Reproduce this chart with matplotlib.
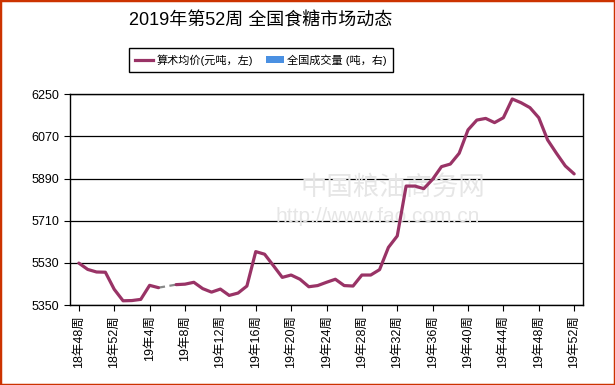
import numpy as np
import matplotlib.pyplot as plt
from matplotlib.lines import Line2D
from matplotlib.patches import Patch, Rectangle

plt.rcParams['font.family'] = ['Liberation Sans', 'Noto Sans CJK SC', 'DejaVu Sans']

# semanas: 18年48周 ... 19年52周
semanas = [f"18年{w}周" for w in range(48, 53)] + [f"19年{w}周" for w in range(1, 53)]

# precio medio (元/吨); nan = semana sin dato
precio = [5529, 5502, 5491, 5490, 5417, 5368, 5369, 5374, 5434, 5424,
          np.nan, 5437, 5439, 5447, 5420, 5405, 5418, 5391, 5401, 5431,
          5578, 5567, 5518, 5468, 5478, 5460, 5428, 5433, 5447, 5460,
          5433, 5431, 5478, 5478, 5501, 5596, 5645, 5858, 5858, 5847,
          5887, 5941, 5952, 5998, 6098, 6140, 6147, 6129, 6150, 6230,
          6214, 6193, 6150, 6055, 5998, 5944, 5910]

yticks = [5350, 5530, 5710, 5890, 6070, 6250]

color_linea = '#993366'

fig = plt.figure(figsize=(6.15, 3.85), dpi=100)
ax = fig.add_axes([70/615, 1 - 305/385, (583-70)/615, (305-94.3)/385])

x = np.arange(len(semanas))
y = np.array(precio, dtype=float)

# huecos: linea gris discontinua entre vecinos
for i in np.where(np.isnan(y))[0]:
    ax.plot([x[i-1], x[i+1]], [y[i-1], y[i+1]], color='#888888', lw=1.6,
            ls=(0, (3, 2)), zorder=2)
ax.plot(x, y, color=color_linea, lw=2.3, zorder=3, solid_capstyle='round')

ax.set_xlim(-1, len(semanas))
ax.set_ylim(5350, 6250)
ax.set_yticks(yticks)
ax.set_yticklabels([str(v) for v in yticks], fontsize=9)
ax.set_xticks(x[::4])
ax.set_xticklabels(semanas[::4], rotation=90, fontsize=9)
ax.tick_params(axis='both', direction='out', length=4, width=0.8, color='black')
ax.grid(axis='y', color='black', lw=0.9)
ax.set_axisbelow(True)
for s in ax.spines.values():
    s.set_linewidth(1.0)

# marca de agua
ax.text(0.63, 0.56, '中国粮油商务网', transform=ax.transAxes, fontsize=19,
        color='#e6e6e6', ha='center', va='center', zorder=1)
ax.text(0.60, 0.42, 'http://www.fao.com.cn', transform=ax.transAxes, fontsize=15,
        color='#e6e6e6', ha='center', va='center', zorder=1)

fig.text(261/615, 1 - 21/385, '2019年第52周 全国食糖市场动态', fontsize=13,
         ha='center', va='center')

handles = [Line2D([], [], color=color_linea, lw=2.3),
           Patch(facecolor='#4a90e2', edgecolor='none')]
leg = fig.legend(handles, ['算术均价(元吨，左)', '全国成交量 (吨，右)'],
                 loc='center', bbox_to_anchor=(261/615, 1 - 60/385), ncol=2,
                 fontsize=8, fancybox=False, edgecolor='black', framealpha=1,
                 handlelength=1.6, handleheight=0.6, handletextpad=0.3,
                 columnspacing=1.2, borderpad=0.55, borderaxespad=0)
leg.get_frame().set_linewidth(1.0)

fig.patches.append(Rectangle((0, 0), 1, 1, transform=fig.transFigure,
                             fill=False, edgecolor='#cc3300', lw=2.5))

fig.savefig('out.png', dpi=100)
